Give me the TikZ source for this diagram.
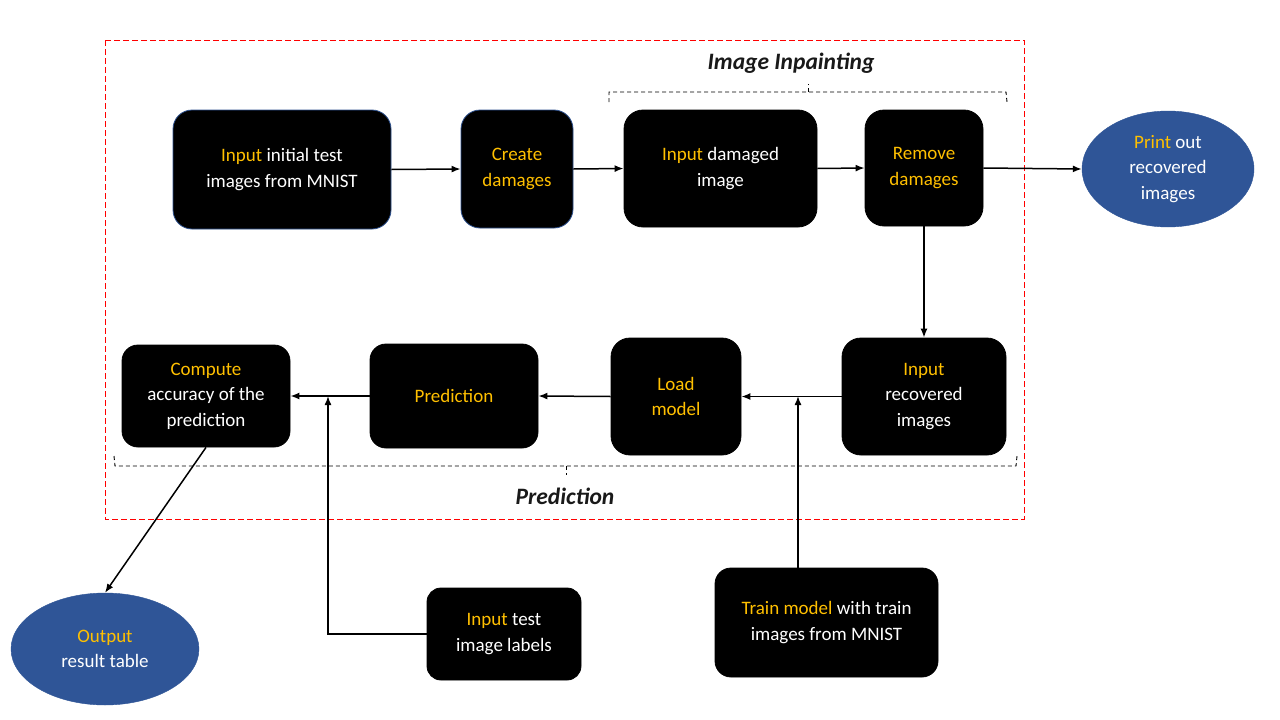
\documentclass[tikz,border=0pt]{standalone}
\usepackage{fontspec}
\setmainfont{Carlito}
\usetikzlibrary{arrows.meta,shapes.geometric}
\definecolor{hl}{HTML}{FFC000}
\definecolor{ellblue}{HTML}{2F5597}
\definecolor{bordblue}{HTML}{2F528F}
\newcommand{\hy}[1]{\textcolor{hl}{#1}}
\begin{document}
\begin{tikzpicture}[x=1pt,y=-1pt,
  boxstyle/.style={rectangle,rounded corners=19pt,fill=black,draw=black,line width=0.8pt,
    text=white,align=center,inner sep=0pt,font=\fontsize{19}{25.5}\selectfont},
  blueedge/.style={draw=bordblue},
  ellstyle/.style={ellipse,fill=ellblue,draw=ellblue,text=white,align=center,inner sep=0pt,
    font=\fontsize{19}{25.5}\selectfont},
  arr/.style={-{Latex[length=9pt,width=7pt]},line width=1.5pt},
  bracestyle/.style={line width=0.9pt,black,dash pattern=on 4pt off 3pt},
  lbl/.style={font=\fontsize{23.5}{27}\selectfont\bfseries\itshape,text=black!90}
]
\useasboundingbox (0,0) rectangle (1280,720);
\fill[white] (0,0) rectangle (1280,720);
% frame
\draw[red,line width=0.9pt,dash pattern=on 6pt off 3pt] (105,40) rectangle (1024,519);

% boxes
\node[boxstyle,blueedge,minimum width=218pt,minimum height=119pt] (b1) at (282,169.5) {\hy{Input} initial test\\images from MNIST};
\node[boxstyle,blueedge,minimum width=112pt,minimum height=118pt] (b2) at (517,169) {\hy{Create}\\\hy{damages}};
\node[boxstyle,minimum width=193pt,minimum height=117pt] (b3) at (720.5,168.5) {\hy{Input} damaged\\image};
\node[boxstyle,minimum width=118pt,minimum height=116pt] (b4) at (924,168) {\hy{Remove}\\\hy{damages}};
\node[ellstyle,minimum width=172pt,minimum height=116pt] (e1) at (1168,169) {\hy{Print} out\\recovered\\images};
\node[boxstyle,minimum width=164pt,minimum height=117pt] (b5) at (924,396.5) {\hy{Input}\\recovered\\images};
\node[boxstyle,minimum width=130pt,minimum height=117pt] (b6) at (676,396.5) {\hy{Load}\\\hy{model}};
\node[boxstyle,rounded corners=16pt,minimum width=168pt,minimum height=104pt] (b7) at (454,396) {\hy{Prediction}};
\node[boxstyle,rounded corners=16pt,minimum width=168pt,minimum height=102pt] (b8) at (206,396) {\hy{Compute}\\accuracy of the\\prediction};
\node[boxstyle,rounded corners=14pt,minimum width=154pt,minimum height=92pt] (b9) at (504,634) {\hy{Input} test\\image labels};
\node[boxstyle,rounded corners=16pt,minimum width=223pt,minimum height=109pt] (b10) at (826.5,622.5) {\hy{Train model} with train\\images from MNIST};
\node[ellstyle,minimum width=188pt,minimum height=112pt] (e2) at (105,649) {\hy{Output}\\result table};

\coordinate (j1) at (798,396);
\coordinate (j2) at (328,396);

% arrows
\draw[arr] (b1.east) -- (b2.west);
\draw[arr] (b2.east) -- (b3.west);
\draw[arr] (b3.east) -- (b4.west);
\draw[arr] (b4.east) -- (e1.west);
\draw[arr] (b4.south) -- (b5.north);
\draw[arr] (b5.west) -- (b6.east);
\draw[arr] (b10.north -| j1) -- (j1);
\draw[arr] (b6.west) -- (b7.east);
\draw[arr] (b7.west) -- (b8.east);
\draw[arr] (b9.west) -| (j2);
\draw[arr] (b8.south) -- (e2.north);

% braces
\draw[bracestyle] (609,102) -- (609,92) -- (1006,92) -- (1007,102);
\draw[bracestyle] (808,92) -- (808,84);
\node[lbl] (l1) at (791,63) {Image Inpainting};
\draw[bracestyle] (114,456) -- (115,466) -- (1016,466) -- (1017,456);
\draw[bracestyle] (566,466) -- (566,475);
\node[lbl] (l2) at (565,496) {Prediction};
\end{tikzpicture}
\end{document}
